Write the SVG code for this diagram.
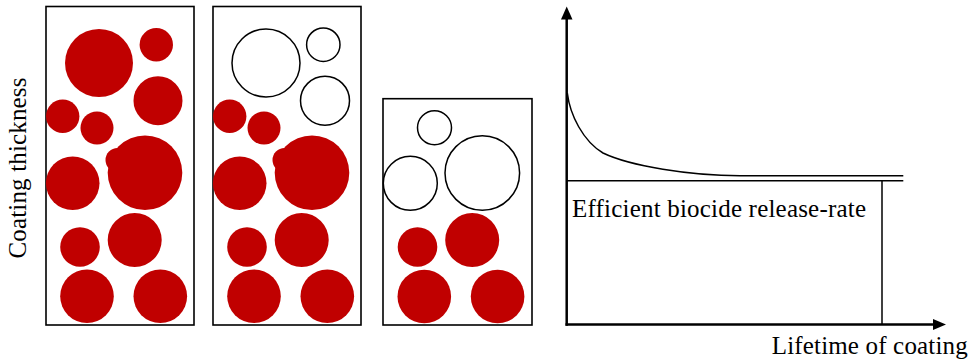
<svg xmlns="http://www.w3.org/2000/svg" width="974" height="360" viewBox="0 0 974 360">
<style>
.box{fill:#fff;stroke:#000;stroke-width:1.6}
.red{fill:#C00000}
.hol{fill:none;stroke:#000;stroke-width:1.5}
.ax{stroke:#000;stroke-width:2.5;fill:none}
.ln{stroke:#000;stroke-width:1.5;fill:none}
.t{font-family:"Liberation Serif","Times New Roman",serif;fill:#000}
</style>
<rect width="974" height="360" fill="#fff"/>
<g id="panel1">
<rect class="box" x="46" y="6.5" width="148" height="318.5"/>
<circle class="red" cx="99" cy="63" r="34"/>
<circle class="red" cx="156.3" cy="44.7" r="16.7"/>
<circle class="red" cx="158" cy="100.7" r="24.5"/>
<circle class="red" cx="62.7" cy="116.3" r="16.7"/>
<circle class="red" cx="97" cy="128" r="16.5"/>
<circle class="red" cx="117.5" cy="160" r="12"/>
<circle class="red" cx="145" cy="172.7" r="37.3"/>
<circle class="red" cx="72.7" cy="183.3" r="26.8"/>
<circle class="red" cx="80" cy="247" r="19.8"/>
<circle class="red" cx="134.7" cy="240" r="27"/>
<circle class="red" cx="87" cy="296.3" r="26.8"/>
<circle class="red" cx="160.3" cy="296.3" r="26.8"/>
</g>
<g id="panel2">
<rect class="box" x="213" y="6.5" width="148" height="318.5"/>
<circle class="hol" cx="266" cy="63" r="34"/>
<circle class="hol" cx="323.3" cy="44.7" r="16.7"/>
<circle class="hol" cx="325" cy="100.7" r="24.5"/>
<circle class="red" cx="229.7" cy="116.3" r="16.7"/>
<circle class="red" cx="264" cy="128" r="16.5"/>
<circle class="red" cx="284.5" cy="160" r="12"/>
<circle class="red" cx="312" cy="172.7" r="37.3"/>
<circle class="red" cx="239.7" cy="183.3" r="26.8"/>
<circle class="red" cx="247" cy="247" r="19.8"/>
<circle class="red" cx="301.7" cy="240" r="27"/>
<circle class="red" cx="254" cy="296.3" r="26.8"/>
<circle class="red" cx="327.3" cy="296.3" r="26.8"/>
</g>
<g id="panel3">
<rect class="box" x="383" y="98.7" width="149" height="226.3"/>
<circle class="hol" cx="434.5" cy="127.7" r="17"/>
<circle class="hol" cx="410.3" cy="183.3" r="27"/>
<circle class="hol" cx="482.3" cy="173" r="37.3"/>
<circle class="red" cx="417.5" cy="247" r="19.8"/>
<circle class="red" cx="472.2" cy="240" r="27"/>
<circle class="red" cx="424.3" cy="296.5" r="26.8"/>
<circle class="red" cx="497.6" cy="296.5" r="26.8"/>
</g>
<g id="ylabel">
<text class="t" font-size="25" transform="translate(26,168) rotate(-90)" text-anchor="middle" textLength="181">Coating thickness</text>
</g>
<g id="connectors">
<line class="ax" x1="566.7" y1="18" x2="566.7" y2="325.7"/>
<polygon points="566.7,6.5 561,19.5 572.5,19.5" fill="#000"/>
<line class="ax" x1="565.5" y1="324.5" x2="934" y2="324.5"/>
<polygon points="946,324.5 933,319 933,330" fill="#000"/>
<path class="ln" d="M567.3,93 C570,115 583,141 603,153 C630,166 690,175.7 740,175.7 L903.3,175.7"/>
<line class="ln" x1="566.7" y1="180.7" x2="903.3" y2="180.7"/>
<line class="ln" x1="882" y1="180.7" x2="882" y2="324.5"/>
</g>
<g id="labels">
<text class="t" x="572" y="216.7" font-size="25" textLength="294">Efficient biocide release-rate</text>
<text class="t" x="771.7" y="354.3" font-size="25" textLength="196">Lifetime of coating</text>
</g>
</svg>
